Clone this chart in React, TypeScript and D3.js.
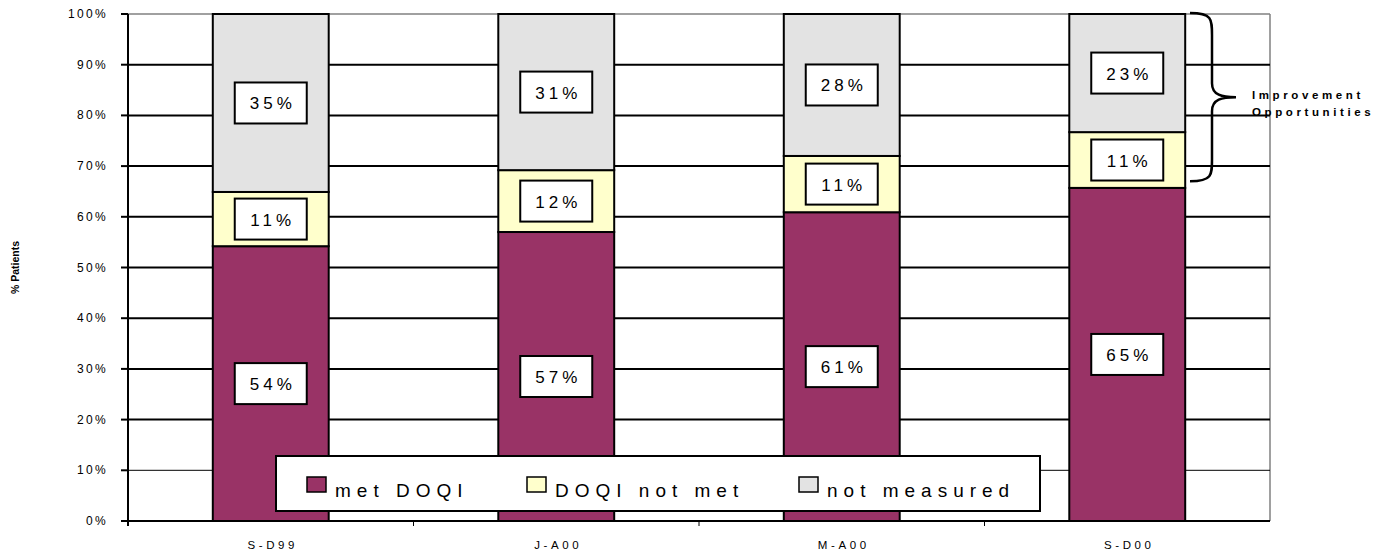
import React from "react";
import * as d3 from "d3";

const categories = ["S-D99", "J-A00", "M-A00", "S-D00"];
const metDoqi = [54.2, 57, 60.9, 65.7];
const doqiNotMet = [10.7, 12.2, 11.1, 11];
const notMeasured = [35.1, 30.8, 28, 23.3];
const metLabels = ["54%", "57%", "61%", "65%"];
const notMetLabels = ["11%", "12%", "11%", "11%"];
const notMeasuredLabels = ["35%", "31%", "28%", "23%"];
const yTicks = [0, 10, 20, 30, 40, 50, 60, 70, 80, 90, 100];
const seriesNames = ["met DOQI", "DOQI not met", "not measured"];
const colors = ["#993366", "#FFFFCC", "#E3E3E3"];

export default function App() {
  const W = 1393, H = 552;
  const left = 128, right = 1270, top = 14, bottom = 521;
  const x = d3.scaleBand<string>().domain(categories).range([left, right]).padding(0);
  const y = d3.scaleLinear().domain([0, 100]).range([bottom, top]);
  const barW = x.bandwidth() * 0.406;
  const series = [metDoqi, doqiNotMet, notMeasured];
  const labels = [metLabels, notMetLabels, notMeasuredLabels];
  const font = "'Liberation Sans', Arial, sans-serif";

  const segs: any[] = [];
  categories.forEach((c, i) => {
    let base = 0;
    series.forEach((s, k) => {
      const v = s[i];
      segs.push({ c, k, y0: base, y1: base + v, label: labels[k][i] });
      base += v;
    });
  });

  const braceX = 1190;
  const bTop = y(100) - 1, bBot = y(67);
  const bMid = (bTop + bBot) / 2;
  const bx2 = braceX + 22, tip = braceX + 46;
  const brace = `M${braceX},${bTop} C${bx2},${bTop} ${bx2},${bTop + 6} ${bx2},${bTop + 22} L${bx2},${bMid - 14} C${bx2},${bMid - 2} ${bx2 + 10},${bMid} ${tip},${bMid} C${bx2 + 10},${bMid} ${bx2},${bMid + 2} ${bx2},${bMid + 14} L${bx2},${bBot - 22} C${bx2},${bBot - 6} ${bx2},${bBot} ${braceX},${bBot}`;

  return (
    <svg width={W} height={H} style={{ position: "absolute", left: 0, top: 0, background: "#fff" }} fontFamily={font}>
      <line x1={left} x2={right} y1={top} y2={top} stroke="#808080" strokeWidth={1.5} />
      <line x1={right} x2={right} y1={top} y2={bottom} stroke="#808080" strokeWidth={1.5} />
      {yTicks.filter(t => t > 0 && t < 100).map(t => (
        <line key={t} x1={left} x2={right} y1={y(t)} y2={y(t)} stroke="#000" strokeWidth={t === 10 ? 1 : 2} />
      ))}
      {segs.map((s, i) => (
        <rect key={i} x={(x(s.c) as number) + x.bandwidth() / 2 - barW / 2} y={y(s.y1)} width={barW} height={y(s.y0) - y(s.y1)}
          fill={colors[s.k]} stroke="#000" strokeWidth={2} />
      ))}
      {segs.map((s, i) => {
        const cx = (x(s.c) as number) + x.bandwidth() / 2;
        const cy = (y(s.y0) + y(s.y1)) / 2;
        return (
          <g key={"l" + i}>
            <rect x={cx - 36} y={cy - 20.5} width={72} height={41} fill="#fff" stroke="#000" strokeWidth={2} />
            <text x={cx + 2} y={cy + 6.5} textAnchor="middle" fontSize={17} letterSpacing={4} fill="#000">{s.label}</text>
          </g>
        );
      })}
      <line x1={left} x2={left} y1={top} y2={bottom + 5} stroke="#000" strokeWidth={2} />
      <line x1={left} x2={right} y1={bottom} y2={bottom} stroke="#000" strokeWidth={2} />
      {yTicks.map(t => (
        <g key={"t" + t}>
          <line x1={left - 7} x2={left} y1={y(t)} y2={y(t)} stroke="#000" strokeWidth={2} />
          <text x={108} y={y(t) + 4} textAnchor="end" fontSize={12} letterSpacing={2.3} fill="#000">{t + "%"}</text>
        </g>
      ))}
      {categories.map((c, i) => (
        <g key={"x" + c}>
          {i > 0 && <line x1={x(c)} x2={x(c)} y1={bottom} y2={bottom + 5} stroke="#000" strokeWidth={1} />}
          <text x={(x(c) as number) + x.bandwidth() / 2 + 2} y={549} textAnchor="middle" fontSize={11.5} letterSpacing={3.6} fill="#000">{c}</text>
        </g>
      ))}
      <text transform={`translate(19,${(top + bottom) / 2}) rotate(-90)`} textAnchor="middle" fontSize={10.5} fontWeight="bold" fill="#000">% Patients</text>
      <rect x={276} y={456} width={764} height={55} fill="#fff" stroke="#000" strokeWidth={2} />
      {seriesNames.map((n, i) => {
        const lx = [307, 527, 799][i];
        return (
          <g key={n}>
            <rect x={lx} y={477} width={19} height={15} fill={colors[i]} stroke="#000" strokeWidth={1.5} />
            <text x={lx + 28} y={497} fontSize={19} letterSpacing={6} fill="#000">{n}</text>
          </g>
        );
      })}
      <path d={brace} fill="none" stroke="#000" strokeWidth={2.5} />
      <text x={1252} y={99} fontSize={11.5} fontWeight="bold" letterSpacing={3.6} fill="#000">Improvement</text>
      <text x={1252} y={116} fontSize={11.5} fontWeight="bold" letterSpacing={3.6} fill="#000">Opportunities</text>
    </svg>
  );
}
